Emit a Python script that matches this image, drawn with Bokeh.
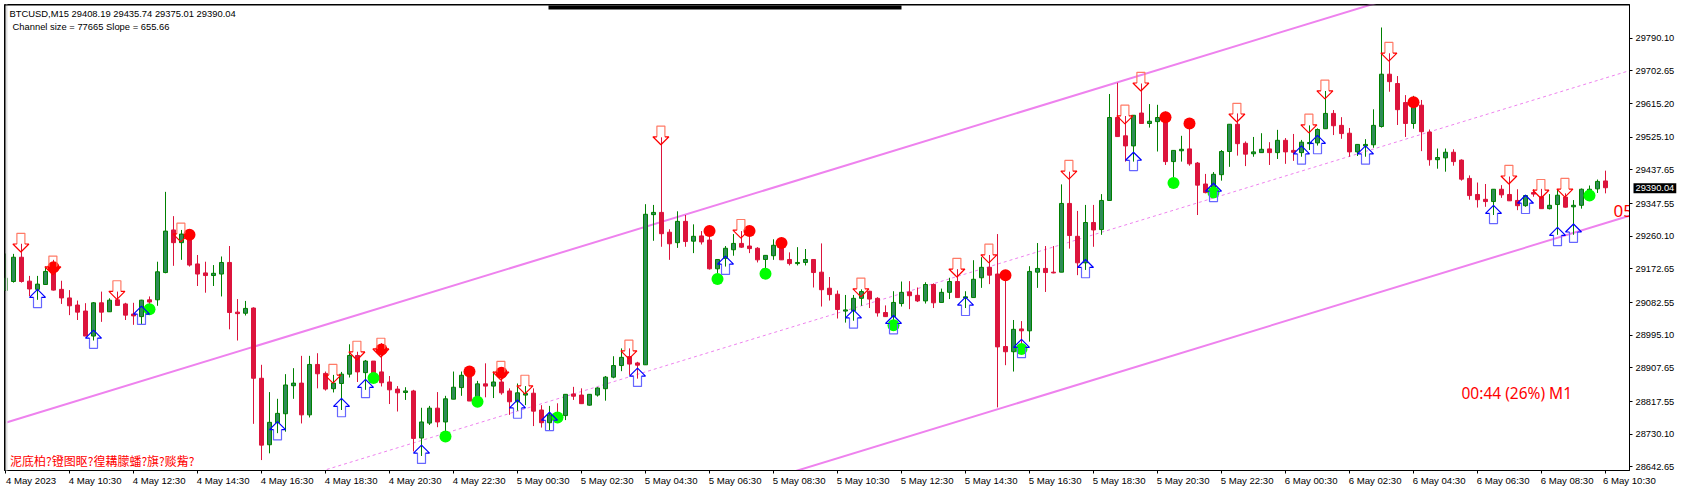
from bokeh.plotting import figure
from bokeh.embed import file_html
from bokeh.resources import INLINE
from bokeh.models import (Range1d, FixedTicker, NumeralTickFormatter, Label, LinearAxis,
                          BoxAnnotation, ColumnDataSource)

opens = [29115,29139,29204,29140,29118,29131,29179,29118,29095,29076,
29060,28993,29082,29058,29090,29079,29052,29045,29090,29090,
29163,29277,29243,29264,29186,29162,29155,29159,29190,29057,
29054,29068,28880,28702,28761,28785,28860,28867,28782,28917,
28893,28852,28866,28891,28941,28895,28926,28897,28870,28851,
28842,28846,28720,28760,28800,28763,28824,28855,28891,28829,
28865,28859,28870,28846,28817,28835,28840,28795,28761,28777,
28780,28838,28835,28808,28835,28852,28883,28914,28938,28921,
28916,29318,29324,29271,29243,29300,29247,29261,29250,29173,
29201,29224,29241,29234,29228,29198,29208,29241,29198,29187,
29190,29198,29164,29121,29105,29060,29061,29094,29113,29094,
29056,29045,29080,29111,29102,29087,29131,29083,29110,29139,
29095,29096,29149,29177,29159,28965,28951,29012,29007,29164,
29174,29164,29164,29348,29260,29189,29297,29278,29356,29578,
29529,29502,29590,29562,29567,29578,29460,29489,29494,29456,
29400,29375,29425,29487,29560,29509,29481,29484,29494,29484,
29517,29490,29484,29508,29510,29548,29589,29557,29536,29486,
29502,29505,29554,29694,29669,29618,29562,29611,29539,29465,
29470,29485,29464,29415,29372,29359,29353,29386,29372,29356,
29342,29377,29366,29334,29345,29365,29339,29343,29375,29387,29408.19]
closes = [29148,29204,29139,29119,29132,29166,29116,29095,29074,29057,
28993,29082,29057,29089,29075,29049,29047,29089,29084,29165,
29274,29243,29266,29183,29159,29155,29161,29190,29056,29053,
29067,28880,28701,28762,28786,28862,28867,28782,28917,28892,
28851,28867,28891,28941,28897,28926,28893,28868,28849,28841,
28846,28719,28763,28800,28763,28825,28856,28888,28819,28865,
28859,28870,28841,28817,28841,28839,28792,28761,28782,28774,
28837,28832,28812,28837,28854,28883,28914,28936,28918,28915,
29319,29324,29267,29240,29300,29246,29260,29245,29173,29198,
29228,29241,29231,29227,29197,29209,29236,29197,29187,29190,
29198,29163,29117,29104,29064,29063,29094,29112,29092,29055,
29045,29083,29110,29101,29087,29131,29082,29110,29139,29096,
29098,29145,29177,29156,28964,28951,29011,29007,29166,29174,
29163,29162,29348,29262,29189,29297,29277,29356,29578,29527,
29502,29584,29562,29568,29578,29460,29490,29493,29454,29397,
29377,29426,29487,29560,29508,29480,29486,29493,29484,29517,
29486,29485,29512,29511,29546,29589,29556,29535,29486,29506,
29506,29557,29694,29674,29599,29562,29607,29540,29465,29471,
29485,29460,29413,29369,29358,29353,29386,29371,29355,29342,
29369,29373,29334,29343,29370,29338,29343,29386,29386,29407,29390.04]
highs = [29214,29213,29240,29154,29154,29179,29197,29141,29116,29088,
29081,29084,29112,29094,29112,29082,29082,29090,29099,29192,
29379,29314,29277,29268,29210,29192,29183,29206,29234,29092,
29087,29070,28916,28843,28825,28891,28907,28940,28940,28947,
28898,28889,28897,28971,28951,28929,28926,28974,28886,28859,
28856,28849,28801,28806,28843,28833,28898,28898,28911,28873,
28920,28898,28907,28853,28866,28859,28853,28808,28806,28813,
28837,28857,28853,28837,28856,28886,28939,28960,28960,28924,
29346,29344,29525,29279,29327,29317,29292,29274,29274,29198,
29234,29266,29274,29268,29231,29209,29252,29257,29217,29231,
29226,29198,29241,29151,29115,29103,29103,29118,29114,29097,
29075,29113,29139,29140,29123,29137,29134,29120,29149,29172,
29113,29196,29204,29210,29266,29161,29036,29033,29180,29242,
29234,29234,29399,29433,29328,29344,29344,29373,29641,29671,
29582,29584,29669,29614,29612,29594,29490,29529,29561,29459,
29427,29432,29491,29560,29589,29514,29526,29536,29512,29545,
29523,29534,29518,29557,29549,29649,29598,29579,29550,29506,
29520,29600,29819,29750,29689,29638,29636,29625,29546,29495,
29495,29493,29466,29423,29404,29400,29386,29397,29420,29386,
29371,29386,29387,29373,29386,29375,29357,29388,29396,29412,29435.74]
lows = [29115,29136,29136,29100,29090,29131,29115,29079,29049,29036,
28993,28981,29031,29058,29075,29036,29023,29023,29070,29074,
29161,29181,29197,29179,29127,29109,29127,29099,29011,28981,
29048,28758,28661,28679,28733,28737,28825,28759,28775,28853,
28847,28842,28795,28882,28870,28849,28888,28858,28811,28791,
28822,28684,28672,28755,28749,28733,28824,28833,28819,28822,
28829,28827,28836,28782,28793,28808,28752,28748,28741,28772,
28768,28822,28811,28807,28831,28820,28880,28899,28889,28879,
28916,29248,29232,29197,29229,29232,29215,29238,29171,29161,
29179,29208,29229,29215,29190,29170,29197,29197,29182,29182,
29182,29123,29072,29088,29040,29029,29034,29074,29068,29045,
29044,29036,29072,29065,29084,29080,29068,29083,29092,29096,
29068,29096,29122,29132,28802,28915,28898,28965,28978,29122,
29111,29161,29164,29227,29156,29170,29232,29264,29356,29527,
29460,29460,29562,29551,29487,29451,29418,29460,29449,29317,
29375,29366,29409,29446,29476,29448,29473,29484,29451,29467,
29454,29462,29473,29491,29503,29548,29531,29521,29473,29475,
29473,29497,29551,29647,29558,29526,29548,29488,29449,29441,
29433,29449,29409,29358,29337,29339,29317,29363,29355,29330,
29339,29366,29334,29332,29264,29337,29264,29334,29357,29376,29375.01]

x_tick_labels = ["4 May 2023","4 May 10:30","4 May 12:30","4 May 14:30","4 May 16:30","4 May 18:30",
"4 May 20:30","4 May 22:30","5 May 00:30","5 May 02:30","5 May 04:30","5 May 06:30","5 May 08:30",
"5 May 10:30","5 May 12:30","5 May 14:30","5 May 16:30","5 May 18:30","5 May 20:30","5 May 22:30",
"6 May 00:30","6 May 02:30","6 May 04:30","6 May 06:30","6 May 08:30","6 May 10:30"]
y_ticks = [29790.10,29702.65,29615.20,29525.10,29437.65,29347.55,29260.10,29172.65,29082.55,
           28995.10,28907.65,28817.55,28730.10,28642.65]

down_i = [2,6,14,22,41,44,47,62,65,78,82,92,107,119,123,133,140,142,154,163,165,173,188,192,195]
down_p = [29218,29157,29091,29245,28867,28929,28937,28875,28838,28932,29505,29255,29098,29151,29189,
          29413,29561,29649,29566,29537,29628,29729,29400,29362,29365]
up_i = [4,11,17,34,42,45,52,64,68,79,90,106,111,120,127,135,141,151,162,164,170,186,190,194,196]
up_p = [29118,29009,29073,28764,28826,28877,28701,28822,28789,28907,29207,29063,29048,29097,28984,
        29198,29485,29402,29502,29530,29502,29343,29370,29284,29293]
red_i = [6,23,47,58,62,88,93,97,125,145,148,176]
red_p = [29177,29264,28957,28898,28895,29274,29274,29242,29156,29579,29562,29619]
green_i = [18,46,55,59,69,89,95,111,127,146,151,198]
green_p = [29065,28881,28724,28817,28775,29146,29160,29022,28958,29403,29377,29369]

channel_i = [0, 203]
channel_upper = [28761, 30092]
channel_middle = [28372.5, 29703.5]
channel_lower = [27984, 29315]

W, H = 1682, 493
LEFT, RIGHT, TOP, BOTTOM = 4, 1629, 4, 470
BAR_PX = 8.0
PRICE_PX = 2.677
def xd(px): return (px - 5.0) / BAR_PX
def yd(py): return 29892.6 - PRICE_PX * (py + 0.5)
# screen units of annotations count from the frame's lower-left corner
def sx_(px): return px - LEFT
def sy_(py): return BOTTOM - py

p = figure(width=W, height=H, output_backend="svg", toolbar_location=None,
           x_range=Range1d(xd(LEFT), xd(RIGHT)), y_range=Range1d(yd(BOTTOM), yd(TOP)),
           min_border_left=LEFT, min_border_right=W-RIGHT, min_border_top=TOP, min_border_bottom=H-BOTTOM,
           frame_width=RIGHT-LEFT, frame_height=BOTTOM-TOP,
           x_axis_location="below", y_axis_location="right")
p.grid.visible = False
p.outline_line_color = "black"
p.outline_line_width = 1
p.background_fill_color = "white"
p.border_fill_color = "white"

AXFONT = "Liberation Sans"
xa = p.xaxis[0]
x_ticks = [8 * k for k in range(len(x_tick_labels))]
xa.ticker = FixedTicker(ticks=x_ticks)
xa.major_label_overrides = {t: "" for t in x_ticks}
ya = p.yaxis[0]
ya.ticker = FixedTicker(ticks=y_ticks)
ya.formatter = NumeralTickFormatter(format="0.00")
for a in (xa, ya):
    a.axis_line_color = "black"
    a.major_tick_line_color = "black"
    a.minor_tick_line_color = None
    a.major_tick_in = 0
    a.major_tick_out = 3
    a.major_label_text_font = AXFONT
    a.major_label_text_font_size = "9.3px"
    a.major_label_text_color = "black"
    a.major_label_standoff = 3

# second bottom axis: carries the date texts, its ticks sit half a label to the right of each tick,
# so that each text starts at its tick mark
LABEL_HALF_BARS = 3.2
label_ticks = [min(t + LABEL_HALF_BARS, xd(RIGHT) - 0.02) for t in x_ticks]
xb = LinearAxis(ticker=FixedTicker(ticks=label_ticks),
                major_label_overrides={lt: s for lt, s in zip(label_ticks, x_tick_labels)},
                axis_line_color=None, major_tick_line_color=None, minor_tick_line_color=None,
                major_tick_in=0, major_tick_out=0, major_label_standoff=1,
                major_label_text_font=AXFONT, major_label_text_font_size="9.6px", major_label_text_color="black")
p.add_layout(xb, "below")

# channel
for vals, w, d in ((channel_upper, 2, "solid"), (channel_lower, 2, "solid"), (channel_middle, 1, "3 3")):
    p.line(channel_i, vals, line_color="#EE82EE", line_width=w, line_dash=d)

idx = list(range(len(opens)))
up = [c >= o for o, c in zip(opens, closes)]
src = ColumnDataSource(dict(
    x=idx, high=highs, low=lows,
    top=[max(o, c) for o, c in zip(opens, closes)],
    bottom=[min(o, c) for o, c in zip(opens, closes)],
    wick=["#008000" if u else "#DC143C" for u in up],
    fill=["#2E8B57" if u else "#DC143C" for u in up],
))
p.segment("x", "high", "x", "low", source=src, line_color="wick", line_width=1)
p.vbar("x", top="top", bottom="bottom", width=4 / BAR_PX, source=src,
       fill_color="fill", line_color="wick", line_width=1)

# dots
p.scatter(red_i, red_p, marker="circle", size=12, fill_color="#FF0000", line_color=None)
p.scatter(green_i, green_p, marker="circle", size=12, fill_color="#00FF00", line_color=None)

# arrows (outline only, built from anchor bar + price)
dp, ds = [], []
for i, pr in zip(down_i, down_p):
    cx = i - 0.6 / BAR_PX
    sx = lambda a: cx + a / BAR_PX
    dp.append(([sx(-4), sx(-8), sx(0), sx(8), sx(4)],
               [pr + 8 * PRICE_PX, pr + 8 * PRICE_PX, pr, pr + 8 * PRICE_PX, pr + 8 * PRICE_PX]))
    ds.append(([sx(-4), sx(-4), sx(4), sx(4)],
               [pr + 8 * PRICE_PX, pr + 18.7 * PRICE_PX, pr + 18.7 * PRICE_PX, pr + 8 * PRICE_PX]))
p.multi_line([a for a, _ in ds], [b for _, b in ds], line_color="#FF7A66", line_width=1.2)
p.multi_line([a for a, _ in dp], [b for _, b in dp], line_color="#FF0000", line_width=1.2)
up_h, up_s = [], []
for i, pr in zip(up_i, up_p):
    sx = lambda a: i + a / BAR_PX
    up_h.append(([sx(-4), sx(-8), sx(0), sx(8), sx(4)],
                 [pr - 8 * PRICE_PX, pr - 8 * PRICE_PX, pr, pr - 8 * PRICE_PX, pr - 8 * PRICE_PX]))
    up_s.append(([sx(-4), sx(-4), sx(4), sx(4)],
                 [pr - 8 * PRICE_PX, pr - 18.3 * PRICE_PX, pr - 18.3 * PRICE_PX, pr - 8 * PRICE_PX]))
p.multi_line([a for a, _ in up_s], [b for _, b in up_s], line_color="#6666FF", line_width=1.2)
p.multi_line([a for a, _ in up_h], [b for _, b in up_h], line_color="#0000FF", line_width=1.2)

# decorations in frame
def box(l, r, t, b, c):
    p.add_layout(BoxAnnotation(left=sx_(l), right=sx_(r), top=sy_(t), bottom=sy_(b),
                               left_units="screen", right_units="screen", top_units="screen", bottom_units="screen",
                               fill_color=c, fill_alpha=1, line_color=None))
box(548, 901, 5, 9, "black")
box(4, 1630, 4, 5, "black")
box(4, 5, 4, 471, "black")

def label(px, py, text, color="black", font=AXFONT, size="9.4px", **kw):
    p.add_layout(Label(x=sx_(px), y=sy_(py), x_units="screen", y_units="screen", text=text, text_color=color,
                       text_font=font, text_font_size=size, text_align="left", text_baseline="middle", **kw))

label(9, 12.5, "BTCUSD,M15  29408.19 29435.74 29375.01 29390.04")
label(12, 25.5, "Channel size = 77665 Slope = 655.66")
label(9.5, 460, "泥底柏?镫图眍?徨耩朦蟠?旗?赕觜?", color="#FF0000", font="Noto Sans CJK SC", size="12px")
label(1461, 392, "00:44 (26%) M1", color="#FF0000", font="Noto Sans", size="15.5px")
p.text([xd(1613)], [yd(210.5)], text=["05"], text_color="#FF0000", text_font={"value": "Noto Sans"},
       text_font_size="17px", text_align="left", text_baseline="middle")

# price tag and window edges live in the side panel, so they may leave the frame
PANEL_LEFT = 1679
def psx(px): return px - PANEL_LEFT
p.add_layout(Label(x=psx(1635), y=sy_((29892.6 - closes[-1]) / PRICE_PX), x_units="screen", y_units="screen",
                   text=f"{closes[-1]:.2f}", text_color="white", text_font=AXFONT, text_font_size="9.3px",
                   text_align="left", text_baseline="middle", background_fill_color="black", padding=2), "right")
for l, r, t, b, c in ((0, W, 0, 2, "#9a9a9a"), (0, 2, 0, H, "#9a9a9a"), (0, W, 491, H, "#e0e0e0"), (1680, W, 0, H, "#e0e0e0")):
    p.add_layout(BoxAnnotation(left=psx(l), right=psx(r), top=sy_(t), bottom=sy_(b),
                               left_units="screen", right_units="screen", top_units="screen", bottom_units="screen",
                               fill_color=c, fill_alpha=1, line_color=None), "right")

open("out.html", "w").write(file_html(p, INLINE))
